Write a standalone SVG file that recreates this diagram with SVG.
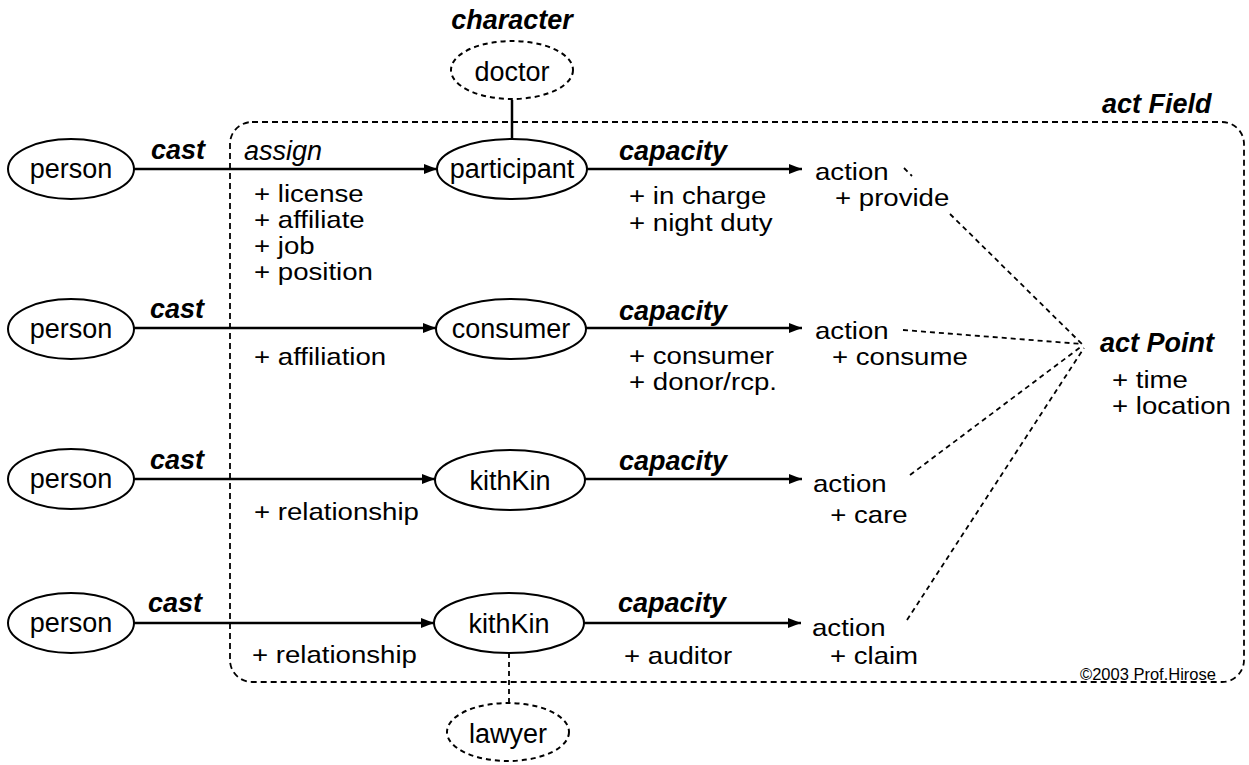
<svg xmlns="http://www.w3.org/2000/svg" width="1249" height="765" viewBox="0 0 1249 765">
<style>
text{font-family:"Liberation Sans",Arial,sans-serif;fill:#000}
.a{font-size:24px}
.c{font-size:27px;text-anchor:middle}
.bi{font-size:27px;font-weight:bold;font-style:italic}
.it{font-size:27px;font-style:italic}
.sm{font-size:16.5px}
.node{fill:#fff;stroke:#000;stroke-width:2}
.dnode{fill:#fff;stroke:#000;stroke-width:2;stroke-dasharray:5 4}
.arr{stroke:#000;stroke-width:2.5;fill:none}
.dash{stroke:#000;stroke-width:1.8;fill:none;stroke-dasharray:5 4}
.frame{stroke:#000;stroke-width:1.8;fill:none;stroke-dasharray:6 4}
</style>
<defs>
<marker id="ah" markerUnits="userSpaceOnUse" markerWidth="14" markerHeight="12" refX="13" refY="5" orient="auto">
<path d="M0,0 L13,5 L0,10 z" fill="#000"/>
</marker>
</defs>

<g id="actField">
<rect class="frame" x="230" y="122" width="1014" height="560" rx="22"/>
<text class="bi" x="1102" y="113">act Field</text>
<text class="sm" x="1080" y="680">©2003 Prof.Hirose</text>
</g>

<g id="connectors">
<line class="arr" x1="512" y1="100" x2="512" y2="139"/>
<line class="dash" x1="509" y1="653" x2="509" y2="702"/>
<line class="arr" x1="134" y1="169" x2="437" y2="169" marker-end="url(#ah)"/>
<line class="arr" x1="587" y1="169" x2="802" y2="169" marker-end="url(#ah)"/>
<line class="arr" x1="134" y1="328" x2="436" y2="328" marker-end="url(#ah)"/>
<line class="arr" x1="586" y1="328" x2="802" y2="328" marker-end="url(#ah)"/>
<line class="arr" x1="134" y1="479" x2="435" y2="479" marker-end="url(#ah)"/>
<line class="arr" x1="585" y1="479" x2="802" y2="479" marker-end="url(#ah)"/>
<line class="arr" x1="134" y1="623" x2="434" y2="623" marker-end="url(#ah)"/>
<line class="arr" x1="584" y1="623" x2="801" y2="623" marker-end="url(#ah)"/>
<line class="dash" x1="904" y1="168" x2="912" y2="176"/>
<line class="dash" x1="950" y1="214" x2="1082" y2="344"/>
<line class="dash" x1="903" y1="330" x2="1082" y2="344"/>
<line class="dash" x1="910" y1="475" x2="1082" y2="346"/>
<line class="dash" x1="907" y1="620" x2="1084" y2="348"/>
<text class="bi" x="151" y="159">cast</text>
<text class="it" x="244" y="160">assign</text>
<text class="bi" x="619" y="160">capacity</text>
<text class="bi" x="150" y="318">cast</text>
<text class="bi" x="619" y="320">capacity</text>
<text class="bi" x="150" y="469">cast</text>
<text class="bi" x="619" y="470">capacity</text>
<text class="bi" x="148" y="612">cast</text>
<text class="bi" x="618" y="612">capacity</text>
</g>

<g id="doctor">
<text class="bi" x="512" y="29" text-anchor="middle">character</text>
<ellipse class="dnode" cx="512" cy="70" rx="61" ry="29"/>
<text class="c" x="512" y="81">doctor</text>
</g>

<g id="person1">
<ellipse class="node" cx="71" cy="169" rx="63" ry="30"/>
<text class="c" x="71" y="178">person</text>
</g>
<g id="person2">
<ellipse class="node" cx="71" cy="329" rx="63" ry="30"/>
<text class="c" x="71" y="338">person</text>
</g>
<g id="person3">
<ellipse class="node" cx="71" cy="479" rx="63" ry="30"/>
<text class="c" x="71" y="488">person</text>
</g>
<g id="person4">
<ellipse class="node" cx="71" cy="623" rx="63" ry="30"/>
<text class="c" x="71" y="632">person</text>
</g>

<g id="participant">
<ellipse class="node" cx="512" cy="169" rx="75" ry="30"/>
<text class="c" x="512" y="178">participant</text>
</g>
<g id="participantAttrs">
<text class="a" transform="translate(254,202) scale(1.15,1)">+ license<tspan x="0" dy="26">+ affiliate</tspan><tspan x="0" dy="26">+ job</tspan><tspan x="0" dy="26">+ position</tspan></text>
</g>
<g id="consumer">
<ellipse class="node" cx="511" cy="329" rx="75" ry="30"/>
<text class="c" x="511" y="338">consumer</text>
<text class="a" transform="translate(254,365) scale(1.15,1)">+ affiliation</text>
</g>
<g id="kithKin1">
<ellipse class="node" cx="510" cy="480" rx="75" ry="30"/>
<text class="c" x="510" y="490">kithKin</text>
<text class="a" transform="translate(254,520) scale(1.15,1)">+ relationship</text>
</g>
<g id="kithKin2">
<ellipse class="node" cx="509" cy="623" rx="75" ry="30"/>
<text class="c" x="509" y="633">kithKin</text>
<text class="a" transform="translate(252,663) scale(1.15,1)">+ relationship</text>
</g>
<g id="lawyer">
<ellipse class="dnode" cx="508" cy="732" rx="61" ry="29"/>
<text class="c" x="508" y="743">lawyer</text>
</g>

<g id="capacityAttrs">
<text class="a" transform="translate(629,204) scale(1.15,1)">+ in charge<tspan x="0" dy="27">+ night duty</tspan></text>
<text class="a" transform="translate(629,364) scale(1.15,1)">+ consumer<tspan x="0" dy="26">+ donor/rcp.</tspan></text>
<text class="a" transform="translate(624,664) scale(1.15,1)">+ auditor</text>
</g>

<g id="action1">
<text class="a" transform="translate(815,180) scale(1.15,1)">action<tspan x="17.4" dy="26">+ provide</tspan></text>
</g>
<g id="action2">
<text class="a" transform="translate(815,339) scale(1.15,1)">action<tspan x="14.8" dy="26">+ consume</tspan></text>
</g>
<g id="action3">
<text class="a" transform="translate(813,492) scale(1.15,1)">action<tspan x="15" dy="31">+ care</tspan></text>
</g>
<g id="action4">
<text class="a" transform="translate(812,636) scale(1.15,1)">action<tspan x="15.6" dy="28">+ claim</tspan></text>
</g>

<g id="actPoint">
<text class="bi" x="1100" y="352">act Point</text>
<text class="a" transform="translate(1112,388) scale(1.15,1)">+ time<tspan x="0" dy="26">+ location</tspan></text>
</g>
</svg>
